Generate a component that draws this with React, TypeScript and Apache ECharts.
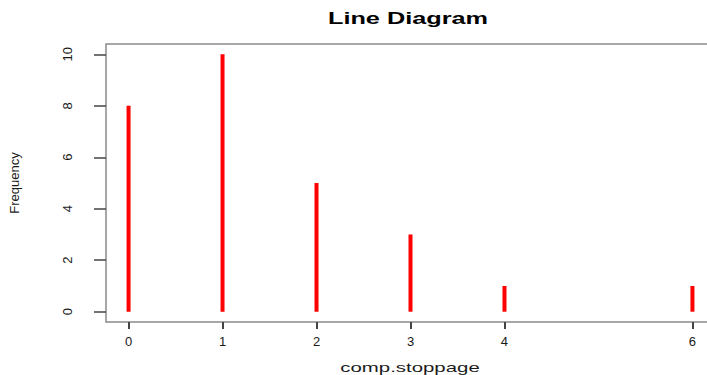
import React, { useEffect, useRef } from "react";
import * as echarts from "echarts";

const xValues = [0, 1, 2, 3, 4, 6];
const frequencies = [8, 10, 5, 3, 1, 1];
const xTickValues = [0, 1, 2, 3, 4, 6];
const yTickValues = [0, 2, 4, 6, 8, 10];
const titleText = "Line Diagram";
const xLabel = "comp.stoppage";
const yLabel = "Frequency";

const FONT = '"Liberation Sans", Arial, sans-serif';

export default function App() {
  const ref = useRef<HTMLDivElement>(null);
  useEffect(() => {
    if (!ref.current) return;
    const chart = echarts.init(ref.current, null, { renderer: "svg" });
    const data = xValues.map((x, i) => [x, frequencies[i]]);
    chart.setOption({
      animation: false,
      backgroundColor: "#ffffff",
      textStyle: { fontFamily: FONT },
      grid: {
        left: 105.5,
        top: 44,
        width: 609.5,
        height: 278,
        show: true,
        borderColor: "#8a8a8a",
        borderWidth: 1.5,
        backgroundColor: "transparent",
      },
      graphic: [
        {
          type: "text",
          x: 408,
          y: 18.5,
          scaleX: 1.58,
          style: {
            text: titleText,
            font: `bold 16px ${FONT}`,
            fill: "#000000",
            textAlign: "center",
            textVerticalAlign: "middle",
            align: "center",
            verticalAlign: "middle",
          },
        },
        {
          type: "text",
          x: 410,
          y: 368,
          scaleX: 1.57,
          style: {
            text: xLabel,
            font: `13px ${FONT}`,
            fill: "#1a1a1a",
            textAlign: "center",
            textVerticalAlign: "middle",
            align: "center",
            verticalAlign: "middle",
          },
        },
      ],
      xAxis: {
        type: "value",
        min: -0.24,
        max: 6.24,
        position: "bottom",
        axisLine: { show: false, onZero: false },
        splitLine: { show: false },
        axisTick: {
          show: true,
          inside: false,
          customValues: xTickValues,
          length: 7,
          lineStyle: { color: "#444444", width: 2 },
        },
        axisLabel: {
          customValues: xTickValues,
          margin: 13,
          fontSize: 13,
          fontFamily: FONT,
          color: "#1a1a1a",
          showMinLabel: true,
          showMaxLabel: true,
        },
      },
      yAxis: {
        type: "value",
        min: -0.4,
        max: 10.4,
        position: "left",
        name: yLabel,
        nameLocation: "middle",
        nameGap: 85,
        nameTextStyle: { fontSize: 13, fontFamily: FONT, color: "#1a1a1a" },
        axisLine: { show: false, onZero: false },
        splitLine: { show: false },
        axisTick: {
          show: true,
          inside: false,
          customValues: yTickValues,
          length: 12,
          lineStyle: { color: "#444444", width: 1.5 },
        },
        axisLabel: {
          customValues: yTickValues,
          rotate: 90,
          margin: 32,
          fontSize: 13,
          fontFamily: FONT,
          color: "#1a1a1a",
        },
      },
      series: [
        {
          type: "bar",
          data,
          barWidth: 4,
          itemStyle: { color: "#ff0000" },
        },
      ],
    });
    return () => chart.dispose();
  }, []);
  return (
    <div
      ref={ref}
      style={{ position: "fixed", left: 0, top: 0, width: 730, height: 375 }}
    />
  );
}
